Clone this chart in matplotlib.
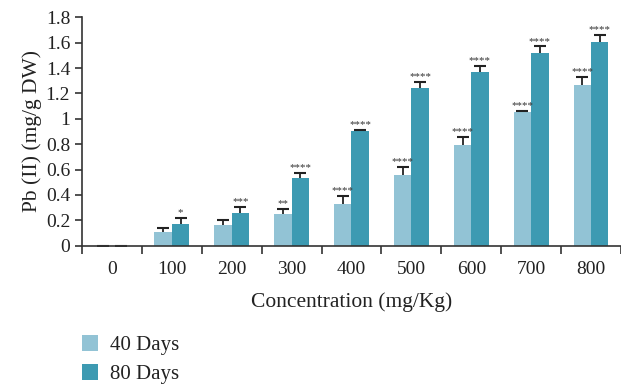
import matplotlib.pyplot as plt
import numpy as np

plt.rcParams['font.family'] = ['Liberation Serif', 'DejaVu Serif']

conc = ['0', '100', '200', '300', '400', '500', '600', '700', '800']
d40 = [0, 0.108, 0.163, 0.25, 0.329, 0.558, 0.794, 1.054, 1.267]
d40_err = [0, 0.03, 0.04, 0.04, 0.063, 0.065, 0.06, 0.01, 0.065]
d80 = [0, 0.171, 0.258, 0.534, 0.905, 1.244, 1.37, 1.52, 1.606]
d80_err = [0, 0.05, 0.05, 0.037, 0.005, 0.045, 0.05, 0.05, 0.055]
sig40 = ['', '', '', '**', '****', '****', '****', '****', '****']
sig80 = ['', '*', '***', '****', '****', '****', '****', '****', '****']

c40 = '#92c3d5'
c80 = '#3d9ab2'

fig = plt.figure(figsize=(6.21, 3.85), dpi=100)
ax = fig.add_axes([82 / 621, 139.3 / 385, 539 / 621, 228.4 / 385])

x = np.arange(len(conc))
w = 0.29
ax.bar(x - w / 2, d40, w, color=c40, label='40 Days')
ax.bar(x + w / 2, d80, w, color=c80, label='80 Days')

# one-sided error bars: stem up from bar top plus a cap
for xs, vals, errs in [(x - w / 2, d40, d40_err), (x + w / 2, d80, d80_err)]:
    tops = np.array(vals) + np.array(errs)
    ax.vlines(xs, vals, tops, color='#222222', lw=1.3)
    ax.plot(xs, tops, ls='none', marker='_', ms=8, mew=1.5, color='#222222')

for i in range(len(x)):
    if sig40[i]:
        ax.text(x[i] - w / 2, d40[i] + d40_err[i] + 0.006, sig40[i],
                ha='center', va='bottom', fontsize=7.8, color='#333333')
    if sig80[i]:
        ax.text(x[i] + w / 2, d80[i] + d80_err[i] + 0.006, sig80[i],
                ha='center', va='bottom', fontsize=7.8, color='#333333')

ax.set_xlim(-0.5, 8.5)
ax.set_ylim(0, 1.8)
ax.set_yticks(np.arange(0, 1.81, 0.2))
ax.set_yticklabels(['0', '0.2', '0.4', '0.6', '0.8', '1', '1.2', '1.4', '1.6', '1.8'])
ax.set_xticks(x)
ax.set_xticklabels(conc)
ax.set_xticks(np.arange(-0.5, 9, 1), minor=True)
ax.tick_params(axis='x', which='major', length=0, labelsize=14, pad=11, colors='#222222')
ax.tick_params(axis='x', which='minor', length=6, width=1.2, color='#333333')
ax.tick_params(axis='y', length=5, width=1.2, labelsize=14, color='#333333', labelcolor='#222222')

for s in ['top', 'right']:
    ax.spines[s].set_visible(False)
for s in ['left', 'bottom']:
    ax.spines[s].set_linewidth(1.2)
    ax.spines[s].set_color('#333333')

ax.set_ylabel('Pb (II) (mg/g DW)', fontsize=15.5, color='#222222', labelpad=3)
ax.set_xlabel('Concentration (mg/Kg)', fontsize=15.5, color='#222222', labelpad=10)

fig.legend(loc='upper left', bbox_to_anchor=(67 / 621, 1 - 320 / 385), frameon=False,
           fontsize=15, handlelength=0.8, handleheight=0.8, handletextpad=0.55,
           labelspacing=0.45, borderpad=0.2, labelcolor='#222222')

fig.savefig('out.png', dpi=100)
